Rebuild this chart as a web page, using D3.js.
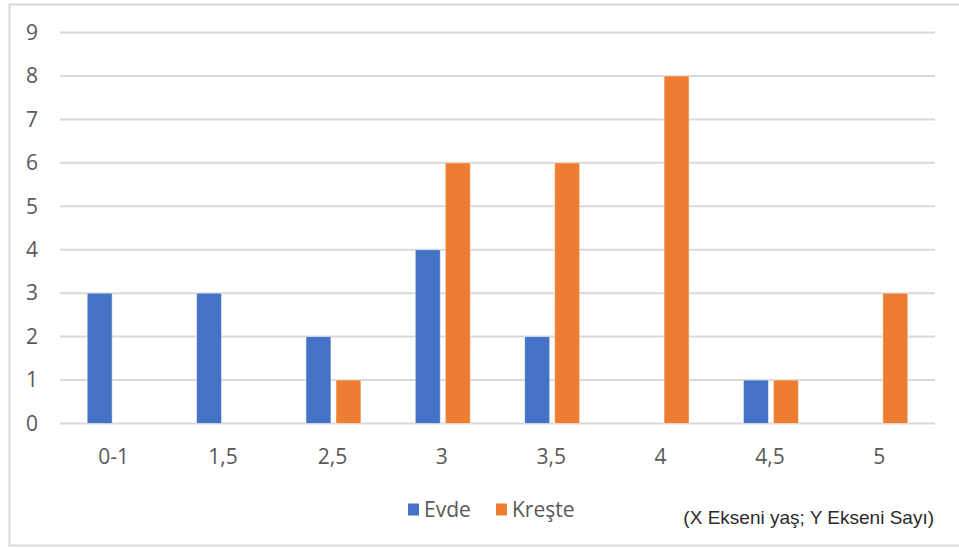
<!DOCTYPE html>
<html>
<head>
<meta charset="utf-8">
<script src="https://cdn.jsdelivr.net/npm/d3@7"></script>
<style>
  html, body { margin: 0; padding: 0; background: #fff; }
  svg { display: block; }
</style>
</head>
<body>
<script>
// Age groups and counts per care setting
const categories = ["0-1", "1,5", "2,5", "3", "3,5", "4", "4,5", "5"];
const evde = [3, 3, 2, 4, 2, 0, 1, 0];
const kreste = [0, 0, 1, 6, 6, 8, 1, 3];
const seriesNames = ["Evde", "Kreşte"];
const yTicks = [0, 1, 2, 3, 4, 5, 6, 7, 8, 9];
const note = "(X Ekseni yaş; Y Ekseni Sayı)";

const W = 959, H = 548;
const colors = ["#4472c4", "#ed7d31"];
const labelFont = "Open Sans, sans-serif";

const svg = d3.select("body").append("svg")
  .attr("width", W).attr("height", H);

// chart frame
svg.append("rect")
  .attr("x", 9.5).attr("y", 4.5)
  .attr("width", W + 10).attr("height", 541)
  .attr("fill", "#fff").attr("stroke", "#d9d9d9").attr("stroke-width", 2);

const plot = { left: 60, right: 935, top: 32.5, bottom: 423.5 };

const x = d3.scaleBand().domain(categories).range([plot.left, plot.right]);
const y = d3.scaleLinear().domain([0, 9]).range([plot.bottom, plot.top]);

// horizontal gridlines
svg.append("g").selectAll("line").data(yTicks).join("line")
  .attr("x1", plot.left).attr("x2", plot.right)
  .attr("y1", d => y(d)).attr("y2", d => y(d))
  .attr("stroke", "#d9d9d9").attr("stroke-width", 2);

// y axis labels
const yAxis = d3.axisLeft(y).tickValues(yTicks).tickSize(0).tickPadding(0)
  .tickFormat(d3.format("d"));
const gy = svg.append("g").attr("transform", "translate(38,0)").call(yAxis);
gy.select(".domain").remove();
gy.selectAll("text")
  .attr("font-family", labelFont).attr("font-size", 21)
  .attr("fill", "#595959").attr("text-anchor", "end");

// x axis labels
const xAxis = d3.axisBottom(x).tickSize(0).tickPadding(0);
const gx = svg.append("g").attr("transform", "translate(-1,449)").call(xAxis);
gx.select(".domain").remove();
gx.selectAll("text")
  .attr("font-family", labelFont).attr("font-size", 21)
  .attr("fill", "#595959");

// grouped bars
const barW = 25, gap = 5;
const series = [evde, kreste];
series.forEach((vals, si) => {
  svg.append("g").selectAll("rect")
    .data(categories.map((c, i) => ({ c, v: vals[i] })).filter(d => d.v > 0))
    .join("rect")
    .attr("x", d => x(d.c) + x.bandwidth() / 2 + (si === 0 ? -gap / 2 - barW : gap / 2))
    .attr("y", d => y(d.v))
    .attr("width", barW)
    .attr("height", d => y(0) - y(d.v))
    .attr("fill", colors[si])
    .attr("stroke", "#fff").attr("stroke-opacity", 0.5).attr("stroke-width", 1);
});

// legend
const legend = svg.append("g").attr("transform", "translate(408,509.5)");
const legendX = [0, 88];
seriesNames.forEach((name, i) => {
  const g = legend.append("g").attr("transform", `translate(${legendX[i]},0)`);
  g.append("rect").attr("x", 0).attr("y", -6).attr("width", 11).attr("height", 12)
    .attr("fill", colors[i]);
  g.append("text").attr("x", 16).attr("y", 0).attr("dy", "0.35em")
    .attr("font-family", labelFont).attr("font-size", 21)
    .attr("fill", "#595959").text(name);
});

// axis note
svg.append("text")
  .attr("x", 934).attr("y", 524)
  .attr("text-anchor", "end")
  .attr("font-family", "Liberation Sans, Arial, sans-serif").attr("font-size", 19)
  .attr("fill", "#2b2b2b").text(note);
</script>
</body>
</html>
